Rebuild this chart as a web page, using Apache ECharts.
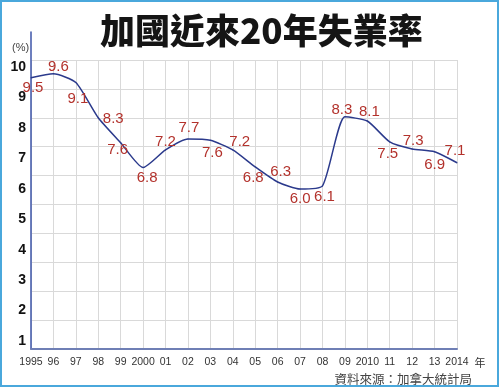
<!DOCTYPE html>
<html>
<head>
<meta charset="utf-8">
<script src="https://cdn.jsdelivr.net/npm/echarts@6/dist/echarts.min.js"></script>
<style>
html,body{margin:0;padding:0;background:#fff;}
#c{width:500px;height:388px;}
</style>
</head>
<body>
<div id="c"></div>
<script>
// ---- data ----
const years = ['1995','96','97','98','99','2000','01','02','03','04','05','06','07','08','09','2010','11','12','13','2014'];
// values as drawn by the line
const lineValues = [9.45, 9.57, 9.3, 8.2, 7.42, 6.65, 7.2, 7.54, 7.5, 7.2, 6.67, 6.2, 5.98, 6.08, 8.23, 8.1, 7.45, 7.23, 7.14, 6.8];
// value labels as printed
const labelTexts = ['9.5','9.6','9.1','8.3','7.6','6.8','7.2','7.7','7.6','7.2','6.8','6.3','6.0','6.1','8.3','8.1','7.5','7.3','6.9','7.1'];
const yTicks = [1,2,3,4,5,6,7,8,9,10];
const titleText = '加國近來20年失業率';
const sourceText = '資料來源：加拿大統計局';

// label placement (style, not data)
const labelOffsets = [[2,10],[5,-7],[2,16],[15,1],[-3,7],[4,10],[0,-8],[1,-11],[2,13],[7,-8],[-2,11],[3,-10],[0,10],[2,11],[-3,-7],[2,-9],[-2,12],[1,-8],[0,13],[-2,-12]];

const font = '"Liberation Sans", Arial, Helvetica, sans-serif';
const chart = echarts.init(document.getElementById('c'), null, {renderer:'canvas'});

chart.setOption({
  animation: false,
  backgroundColor: '#fff',
  title: [
    {text: titleText, left: 95, top: 8,
     textStyle:{fontFamily:'"Noto Sans CJK TC", sans-serif', fontWeight:900, fontSize:35, color:'#151515'}},
    {text: sourceText, right: 23, top: 368,
     textStyle:{fontFamily:'"Noto Sans CJK TC", sans-serif', fontWeight:'normal', fontSize:12.5, color:'#444'}}
  ],
  graphic: [
    {type:'rect', shape:{x:1, y:1, width:497, height:385}, style:{fill:'none', stroke:'#4aa8dc', lineWidth:2}, silent:true},
    {type:'text', left:12, top:42, style:{text:'(%)', fontSize:11, fill:'#444', fontFamily:font}}
  ],
  grid: [
    {left:31, right:43, top:60, bottom:39},
    {left:31, width:1, top:32, bottom:39}
  ],
  xAxis: [
    {gridIndex:0, type:'category', boundaryGap:false, data:years,
     axisLine:{lineStyle:{color:'#6f7fb5', width:2}},
     axisTick:{show:false},
     axisLabel:{interval:0, margin:8, fontSize:10.5, color:'#333', fontFamily:font},
     splitLine:{show:true, lineStyle:{color:'#d9d9d9', width:1}},
     name:'年', nameLocation:'end', nameGap:17,
     nameTextStyle:{fontSize:11, color:'#333', verticalAlign:'top', padding:[8,0,0,0], fontFamily:'"Noto Sans CJK TC", sans-serif'}},
    {gridIndex:1, type:'value', show:false}
  ],
  yAxis: [
    {gridIndex:0, type:'value', min:1, max:10, show:false},
    {gridIndex:0, type:'value', min:0, max:10, interval:1, position:'left',
     axisLine:{show:false}, axisTick:{show:false}, axisLabel:{show:false},
     splitLine:{show:true, lineStyle:{color:'#d9d9d9', width:1}}},
    {gridIndex:1, type:'value', min:0.737, max:11.15,
     axisLine:{show:true, lineStyle:{color:'#3d55a8', width:1.5}},
     axisTick:{show:false}, splitLine:{show:false},
     axisLabel:{customValues:yTicks, fontWeight:'bold', fontSize:14, color:'#111', margin:5, fontFamily:font}}
  ],
  series: [{
    type:'line', xAxisIndex:0, yAxisIndex:0,
    smooth:0.2,
    symbol:'circle', symbolSize:1, showSymbol:true,
    itemStyle:{color:'#2b3a8c'},
    lineStyle:{color:'#2b3a8c', width:1.5},
    data: lineValues.map((v,i)=>({value:v, label:{offset:labelOffsets[i]}})),
    label:{show:true, position:'inside', color:'#b3322c', fontSize:15, fontFamily:font,
      textBorderWidth:0,
      formatter:(p)=>labelTexts[p.dataIndex]}
  }]
});
</script>
</body>
</html>
